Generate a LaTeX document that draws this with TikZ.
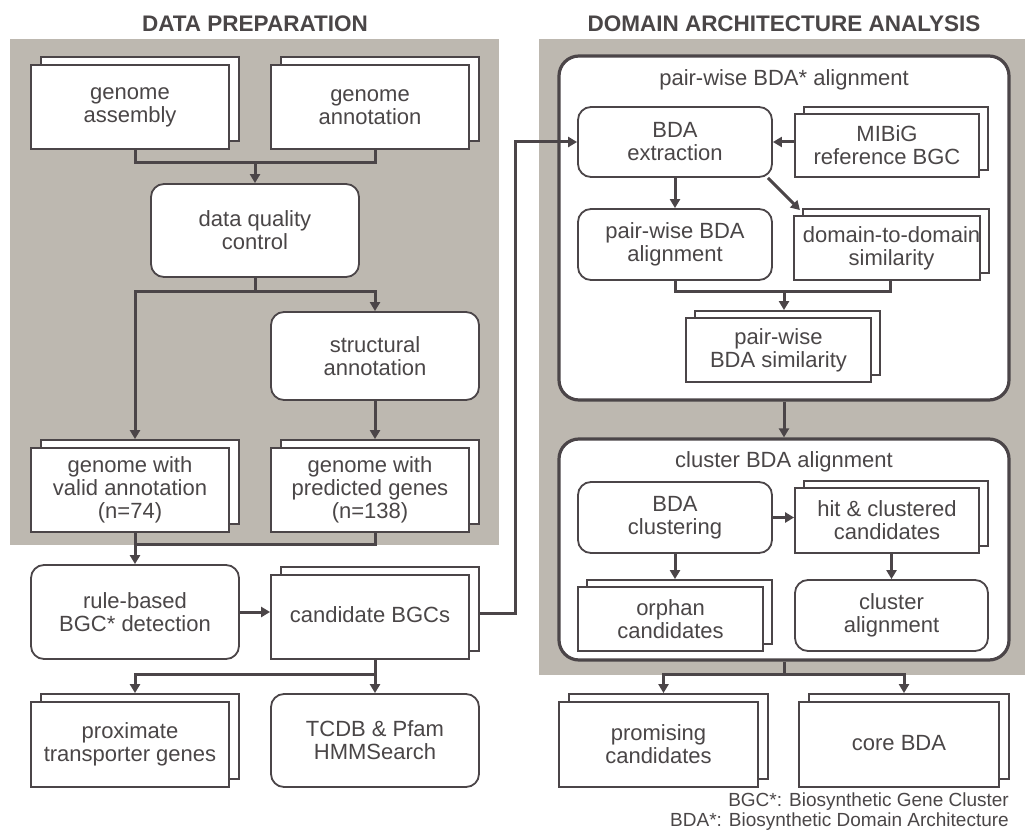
\documentclass[tikz,border=0pt]{standalone}
\usepackage{fontspec}
\setmainfont{Liberation Sans}
\usetikzlibrary{arrows.meta,shadows,calc}
\definecolor{panel}{HTML}{BDB8B0}
\definecolor{linec}{HTML}{4B4548}
\definecolor{txtc}{HTML}{4A4647}
\tikzset{
  base/.style={draw=linec, fill=white, line width=1.8pt, text=txtc, align=center, inner sep=0pt,
    font=\fontsize{22}{23}\selectfont},
  docbox/.style={base, general shadow={shadow xshift=10pt, shadow yshift=8pt, draw=linec, fill=white, line width=1.8pt}},
  docboxs/.style={base, general shadow={shadow xshift=9pt, shadow yshift=7pt, draw=linec, fill=white, line width=1.8pt}},
  procbox/.style={base, rounded corners=13pt},
  outerbox/.style={draw=linec, fill=white, line width=3.2pt, rounded corners=20pt},
  conn/.style={draw=linec, line width=3pt},
  arr/.style={conn, -{Triangle[length=9pt,width=10pt]}},
  title/.style={text=txtc, font=\fontsize{22.5}{25}\selectfont\bfseries},
  sublabel/.style={text=txtc, font=\fontsize{22}{23}\selectfont},
}
\begin{document}
\begin{tikzpicture}[x=1pt,y=-1pt]
\useasboundingbox (0,0) rectangle (1025,834);
% panels
\fill[panel] (10,39) rectangle (499,545);
\fill[panel] (539,39) rectangle (1025,675);
\node[title] (t1) at (255,24) {DATA PREPARATION};
\node[title] (t2) at (784,24) {DOMAIN ARCHITECTURE ANALYSIS};

% left column
\node[docbox, minimum width=198pt, minimum height=84pt] (ga) at (130,107) {genome\\assembly};
\node[docbox, minimum width=198pt, minimum height=84pt] (gan) at (370,107) {genome\\annotation};
\node[procbox, minimum width=208pt, minimum height=93pt] (dqc) at (255,230.5) {data quality\\control};
\node[procbox, minimum width=208pt, minimum height=88pt] (sa) at (375,356) {structural\\annotation};
\node[docbox, minimum width=198pt, minimum height=84pt] (gv) at (130,490) {genome with\\valid annotation\\(n=74)};
\node[docbox, minimum width=198pt, minimum height=84pt] (gp) at (370,490) {genome with\\predicted genes\\(n=138)};
\node[procbox, minimum width=208pt, minimum height=94pt] (rb) at (135,612) {rule-based\\BGC* detection};
\node[docbox, minimum width=198pt, minimum height=84pt] (cb) at (370,617) {\raisebox{4pt}{candidate BGCs}};
\node[docbox, minimum width=198pt, minimum height=85pt] (ptg) at (130,744.5) {proximate\\transporter genes};
\node[procbox, minimum width=208pt, minimum height=93pt] (tcdb) at (375,740.5) {TCDB \& Pfam\\HMMSearch};

% right column
\node[outerbox, minimum width=450pt, minimum height=344pt] (o1) at (784,228) {};
\node[sublabel] (o1l) at (784,80) {pair-wise BDA* alignment};
\node[procbox, minimum width=194pt, minimum height=70pt] (bex) at (675,142) {BDA\\extraction};
\node[docboxs, minimum width=184pt, minimum height=63pt] (mib) at (887,145.5) {MIBiG\\reference BGC};
\node[procbox, minimum width=194pt, minimum height=71pt] (pba) at (675,244.5) {pair-wise BDA\\alignment};
\node[docboxs, minimum width=184pt, minimum height=64pt] (d2d) at (887,248) {\hspace*{9pt}domain-to-domain\\\hspace*{9pt}similarity};
\node[docboxs, minimum width=185pt, minimum height=64pt] (pbs) at (778.5,350) {pair-wise\\BDA similarity};

\node[outerbox, minimum width=450pt, minimum height=221pt] (o2) at (784,549.5) {};
\node[sublabel] (o2l) at (784,462) {cluster BDA alignment};
\node[procbox, minimum width=194pt, minimum height=71pt] (bcl) at (675,517.5) {BDA\\clustering};
\node[docboxs, minimum width=184pt, minimum height=65pt] (hcc) at (887,520.5) {hit \& clustered\\candidates};
\node[docboxs, minimum width=185pt, minimum height=64pt] (orph) at (670.5,619) {orphan\\candidates};
\node[procbox, minimum width=193pt, minimum height=71pt] (cal) at (891.5,615.5) {cluster\\alignment};

\node[docbox, minimum width=199pt, minimum height=85pt] (prom) at (658.5,744.5) {promising\\candidates};
\node[docbox, minimum width=200pt, minimum height=85pt] (core) at (899,744.5) {\raisebox{4pt}{core BDA}};

\node[anchor=north east, align=right, inner sep=0pt, text=txtc, font=\fontsize{19}{20}\selectfont] (fn) at (1009,793)
  {BGC*: Biosynthetic Gene Cluster\\BDA*: Biosynthetic Domain Architecture};

% connectors left
\coordinate (j1) at (255,163);
\draw[conn] ([xshift=5pt]ga.south) |- (j1) -| ([xshift=5pt]gan.south);
\draw[arr] (j1) -- (dqc.north);
\coordinate (j2) at (255,292);
\draw[conn] (dqc.south) -- (j2);
\draw[arr] (j2) -| (sa.north);
\draw[arr] (j2) -| ([xshift=5pt,yshift=8pt]gv.north);
\draw[arr] (sa.south) -- ([xshift=5pt,yshift=8pt]gp.north);
\coordinate (j3) at (135,544);
\draw[conn] ([xshift=5pt]gp.south) |- (j3);
\draw[arr] ([xshift=5pt]gv.south) -- (rb.north);
\draw[arr] (rb.east) -- (rb.east -| cb.west);
\coordinate (j4) at (515,0);
\coordinate (cbr) at ($(cb.east)+(10,-4)$);
\draw[arr] (cbr) -- (cbr -| j4) |- (bex.west);
\coordinate (j5) at (375,674);
\draw[conn] ([xshift=5pt]cb.south) -- (j5);
\draw[arr] (j5) -| ([xshift=5pt,yshift=8pt]ptg.north);
\draw[arr] (j5) -- (tcdb.north);

% connectors right
\draw[arr] (mib.west |- bex.east) -- (bex.east);
\draw[arr] (bex.south) -- (pba.north);
\draw[arr] ([xshift=-5pt]bex.south east) -- ([xshift=7pt,yshift=5pt]d2d.north west);
\coordinate (j6) at (784,292);
\draw[conn] (pba.south) |- (j6) -| ([xshift=3pt]d2d.south);
\draw[arr] (j6) -- ([xshift=5.5pt,yshift=7pt]pbs.north);
\draw[arr] (o1.south) -- (o2.north);
\draw[arr] (bcl.east) -- (bcl.east -| hcc.west);
\draw[arr] (bcl.south) -- ([yshift=7pt]bcl.south |- orph.north);
\draw[arr] (hcc.south -| cal.north) -- (cal.north);
\coordinate (j7) at (784,674);
\draw[conn] (o2.south) -- (j7);
\draw[arr] (j7) -| ([xshift=5pt,yshift=8pt]prom.north);
\draw[arr] (j7) -| ([xshift=5pt,yshift=8pt]core.north);
\end{tikzpicture}
\end{document}
